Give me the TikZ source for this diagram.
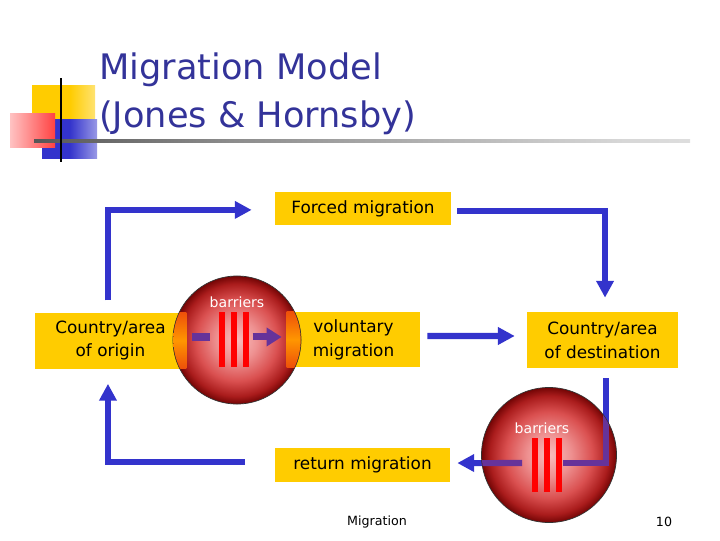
\documentclass[tikz,border=0pt]{standalone}
\usepackage{fontspec}
\setmainfont{DejaVu Sans}
\usetikzlibrary{arrows.meta}
\definecolor{colYellow}{HTML}{FFCC00}
\definecolor{colBlue}{HTML}{3333CC}
\definecolor{colPurple}{HTML}{66339A}
\definecolor{colBar}{HTML}{FF0000}
\definecolor{colTitle}{HTML}{333399}
\definecolor{colPink}{RGB}{248,190,190}
\definecolor{colLightRed}{RGB}{238,145,145}
\definecolor{colMidRed}{RGB}{218,80,80}
\definecolor{colDeepRed}{RGB}{170,28,28}
\definecolor{colDarkRed}{RGB}{115,5,5}
\definecolor{colOrange}{RGB}{255,150,0}
\definecolor{colOrDark}{RGB}{238,80,10}
\definecolor{colRedLt}{RGB}{255,170,170}
\definecolor{colRuleA}{RGB}{40,40,40}
\definecolor{colRuleB}{RGB}{140,140,140}
\definecolor{colRuleC}{RGB}{215,215,215}
\def\ttlfont{\fontsize{25pt}{34pt}\selectfont}
\def\boxfont{\fontsize{12pt}{17pt}\selectfont}
\def\barfont{\fontsize{10pt}{12pt}\selectfont}
\def\footfont{\fontsize{9pt}{11pt}\selectfont}
\pgfdeclareradialshading{ballshade}{\pgfpoint{0bp}{0bp}}{color(0bp)=(colPink);color(8bp)=(colLightRed);color(16bp)=(colMidRed);color(22bp)=(colDeepRed);color(25bp)=(colDarkRed);color(50bp)=(colDarkRed)}
\pgfdeclarehorizontalshading{yelfade}{100bp}{color(0bp)=(colYellow);color(55bp)=(colYellow);color(100bp)=(white)}
\pgfdeclarehorizontalshading{bluefade}{100bp}{color(0bp)=(colBlue);color(50bp)=(colBlue);color(100bp)=(white)}
\pgfdeclarehorizontalshading{redfade}{100bp}{color(0bp)=(white);color(35bp)=(colRedLt);color(100bp)=(colBar)}
\pgfdeclarehorizontalshading{rulefade}{100bp}{color(0bp)=(black);color(12bp)=(colRuleA);color(40bp)=(colRuleB);color(70bp)=(colRuleC);color(100bp)=(white)}
\tikzset{
  migbox/.style={fill=colYellow, font=\boxfont, align=center, inner sep=0pt},
  flow/.style={draw=colBlue, line width=4.3pt, -{Triangle[length=12pt,width=12pt]}},
  flowP/.style={draw=colPurple, line width=4.3pt},
  ball/.style={circle, draw=black!80, line width=0.5pt, shading=ballshade, inner sep=0pt},
  barlbl/.style={font=\barfont, text=white, inner sep=0pt},
  orpart/.style={top color=colOrDark, bottom color=colOrDark, middle color=colOrange},
}
\newcommand{\barset}[3]{%
  \foreach \dx in {-12,0,12}
    \fill[colBar] ({#1+\dx-3},#2) rectangle ({#1+\dx+3},#3);}

\begin{document}
\begin{tikzpicture}[x=0.025cm, y=-0.025cm]
\useasboundingbox (0,0) rectangle (720,540);

% ===================== LOGO + TITLE =====================
\shade[shading=yelfade] (32,85) rectangle (95,118);
\shade[shading=bluefade] (42,119) rectangle (97,158);
\shade[shading=redfade] (10,113) rectangle (55,147);
\shade[shading=rulefade] (34,139.5) rectangle (690,142.5);
\draw[black, line width=1.5pt] (61,78) -- (61,162);

\node[anchor=base west, font=\ttlfont, text=colTitle, inner sep=0pt] (ttlA) at (99,79) {Migration Model};
\node[anchor=base west, font=\ttlfont, text=colTitle, inner sep=0pt] (ttlB) at (99,127) {(Jones \& Hornsby)};

% ===================== BOXES =====================
\node[migbox, minimum width=4.4cm, minimum height=0.825cm] (forced) at (363,208.5) {Forced migration};
\node[migbox, minimum width=3.775cm, minimum height=1.4cm] (origin) at (110.5,340.5) {Country/area\\of origin};
\node[migbox, minimum width=3.325cm, minimum height=1.375cm] (vol) at (353.5,339.5) {voluntary\\migration};
\node[migbox, minimum width=3.775cm, minimum height=1.4cm] (dest) at (602.5,340) {Country/area\\of destination};
\node[migbox, minimum width=4.375cm, minimum height=0.85cm] (ret) at (362.5,465) {return migration};

\coordinate (gapR) at (563,463);
\coordinate (gapL) at (522,463);

% ===================== FLOWS =====================
\draw[flow] ([xshift=-1.8pt,yshift=8.5pt]origin.north) |- ([xshift=-16.4pt,yshift=-1pt]forced.west);
\draw[flow] ([xshift=4.3pt,yshift=-1.8pt]forced.east) -| ([xshift=1.8pt,yshift=10pt]dest.north);
\draw[flow] ([xshift=5pt,yshift=2.5pt]vol.east) -- ([xshift=-8.5pt,yshift=2.85pt]dest.west);
\draw[flow, -] ([xshift=2.8pt,yshift=-7.1pt]dest.south) |- (gapR);
\draw[flow] (gapL) -- ([xshift=5pt,yshift=1.4pt]ret.east);
\draw[flow] ([xshift=-21.3pt,yshift=2.1pt]ret.west) -| ([xshift=-1.8pt,yshift=-10.7pt]origin.south);

% ===================== BARRIERS =====================
\node[ball, minimum size=3.2cm] (b1) at (237,340) {};
\node[ball, minimum size=3.375cm] (b2) at (549,455) {};

\begin{scope}
  \clip (b1.center) circle[radius=1.59cm];
  \shade[orpart] (origin.north east) rectangle ([xshift=-14pt]origin.south east);
  \shade[orpart] (vol.north west) rectangle ([xshift=14pt]vol.south west);
\end{scope}
\begin{scope}
  \clip (b2.center) circle[radius=1.68cm];
  \draw[flowP] ([xshift=2.8pt,yshift=-7.1pt]dest.south) |- (gapR);
  \draw[flowP] (gapL) -- ([xshift=5pt,yshift=1.4pt]ret.east);
\end{scope}

\draw[colPurple, line width=5pt] ([xshift=4.3pt,yshift=2.5pt]origin.east) -- ([xshift=17pt,yshift=2.5pt]origin.east);
\draw[colPurple, line width=5pt, -{Triangle[length=10.7pt,width=12.8pt]}]
  ([xshift=-24.2pt,yshift=1.8pt]vol.west) -- ([xshift=-3.6pt,yshift=1.8pt]vol.west);

\barset{234}{312}{367}
\barset{546.5}{438}{492}

\node[barlbl] (bl1) at (237,302) {barriers};
\node[barlbl] (bl2) at (542,428) {barriers};

% ===================== FOOTER =====================
\node[font=\footfont, inner sep=0pt] (foot) at (377,522) {Migration};
\node[font=\footfont, inner sep=0pt] (pgno) at (664,522) {10};

\end{tikzpicture}
\end{document}
